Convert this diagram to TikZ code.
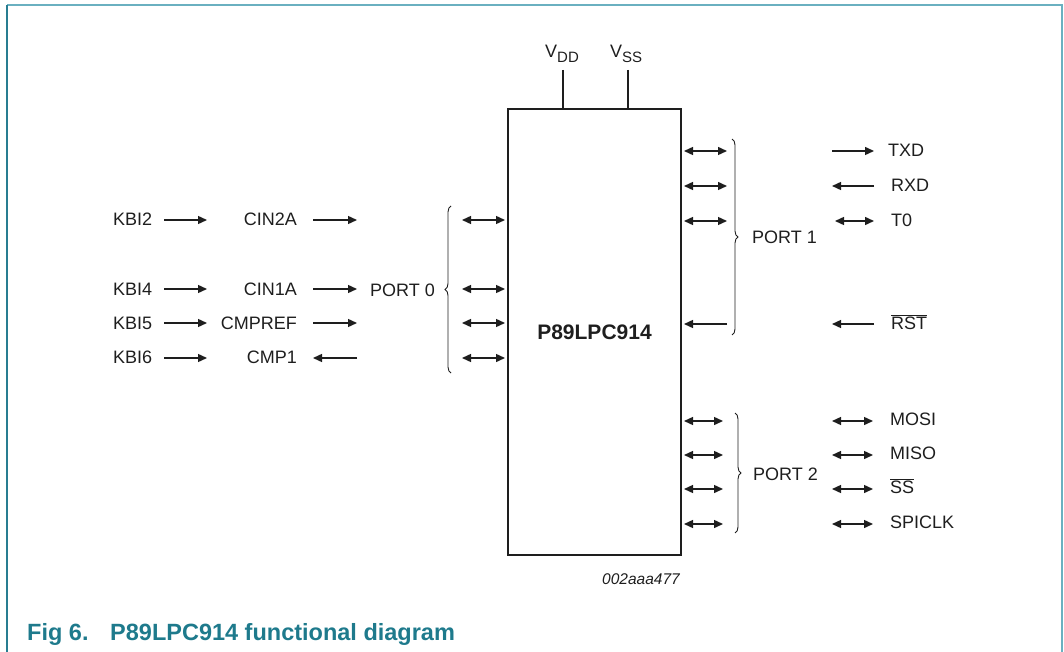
\documentclass[tikz,border=0pt]{standalone}
\usepackage{fontspec}
\setmainfont{Liberation Sans}
\usetikzlibrary{arrows.meta,decorations.pathreplacing}
\definecolor{frameA}{RGB}{106,176,192}
\definecolor{frameB}{RGB}{40,125,145}
\definecolor{capcol}{RGB}{30,122,140}
\definecolor{ink}{RGB}{30,30,30}
\tikzset{
  lbl/.style={font=\fontsize{18}{18}\selectfont, inner sep=0pt, text height=13pt, text depth=0pt, text=ink},
  arr/.style={-{Triangle[length=9pt,width=8pt]}, line width=1.4pt, draw=ink},
  dbl/.style={{Triangle[length=9pt,width=8pt]}-{Triangle[length=9pt,width=8pt]}, line width=1.4pt, draw=ink},
  brc/.style={decorate, decoration={brace, amplitude=6pt}, line width=0.9pt, draw=ink},
  chipbox/.style={draw=ink, line width=2.6pt, minimum width=173pt, minimum height=446pt, inner sep=0pt, font=\fontsize{21}{21}\selectfont\bfseries, text=ink},
  pin/.style={line width=1.2pt, draw=ink}
}
\begin{document}
\begin{tikzpicture}[x=1pt,y=-1pt]
\useasboundingbox (0,0) rectangle (1064,652);
% frame
\draw[frameA, line width=2pt] (7,5.5) -- (1062,5.5) -- (1062,652);
\draw[frameB, line width=1.5pt] (7,5) -- (7,652);

% chip
\node[chipbox] (chip) at (594.5,332) {P89LPC914};
\coordinate (vddt) at (563,70);
\coordinate (vsst) at (628,70);
\draw[pin] (vddt) -- (vddt |- chip.north);
\draw[pin] (vsst) -- (vsst |- chip.north);
\node[inner sep=0pt, anchor=base west, font=\fontsize{18}{18}\selectfont, text=ink] (vdd) at (545,58) {V\raisebox{-4.5pt}{\fontsize{15}{15}\selectfont DD}};
\node[inner sep=0pt, anchor=base west, font=\fontsize{18}{18}\selectfont, text=ink] (vss) at (610,58) {V\raisebox{-4.5pt}{\fontsize{15}{15}\selectfont SS}};

% left side: KBI -> CIN -> port 0
\node[lbl, anchor=west] (kbi2) at (113,219) {KBI2};
\node[lbl, anchor=west] (kbi4) at (113,289) {KBI4};
\node[lbl, anchor=west] (kbi5) at (113,323) {KBI5};
\node[lbl, anchor=west] (kbi6) at (113,357) {KBI6};
\node[lbl, anchor=east] (cin2a) at (297,219) {CIN2A};
\node[lbl, anchor=east] (cin1a) at (297,289) {CIN1A};
\node[lbl, anchor=east] (cmpref) at (297,323) {CMPREF};
\node[lbl, anchor=east] (cmp1) at (297,357) {CMP1};
\foreach \n/\y in {a/220,b/289,c/323,d/358}{
  \coordinate (ka\n) at (164,\y);
  \coordinate (kb\n) at (207,\y);
  \coordinate (ca\n) at (313,\y);
  \coordinate (cb\n) at (357,\y);
  \coordinate (pa\n) at (462,\y);
  \coordinate (pb\n) at (505,\y);
  \draw[arr] (ka\n) -- (kb\n);
  \draw[dbl] (pa\n) -- (pb\n);
}
\draw[arr] (caa) -- (cba);
\draw[arr] (cab) -- (cbb);
\draw[arr] (cac) -- (cbc);
\draw[arr] (cbd) -- (cad);
\node[lbl, anchor=west] (port0) at (370,290) {PORT 0};
\coordinate (b0s) at (451,373);
\coordinate (b0e) at (451,206);
\draw[brc] (b0s) -- (b0e);

% port 1
\foreach \n/\y in {a/151,b/186,c/221}{
  \coordinate (qa\n) at (684,\y);
  \coordinate (qb\n) at (727,\y);
  \draw[dbl] (qa\n) -- (qb\n);
}
\coordinate (qad) at (684,324);
\coordinate (qbd) at (727,324);
\draw[arr] (qbd) -- (qad);
\coordinate (b1s) at (732,139);
\coordinate (b1e) at (732,335);
\draw[brc] (b1s) -- (b1e);
\node[lbl, anchor=west] (port1) at (752,237) {PORT 1};
\coordinate (xa1) at (832,151); \coordinate (xb1) at (874,151);
\coordinate (xa2) at (832,186); \coordinate (xb2) at (874,186);
\coordinate (xa3) at (835,221); \coordinate (xb3) at (874,221);
\coordinate (xa4) at (832,324); \coordinate (xb4) at (874,324);
\draw[arr] (xa1) -- (xb1);
\draw[arr] (xb2) -- (xa2);
\draw[dbl] (xa3) -- (xb3);
\draw[arr] (xb4) -- (xa4);
\node[lbl, anchor=west] (txd) at (888,150) {TXD};
\node[lbl, anchor=west] (rxd) at (891,185) {RXD};
\node[lbl, anchor=west] (t0) at (891,220) {T0};
\node[lbl, anchor=west] (rst) at (891,323) {\ensuremath{\overline{\hbox{RST}}}};

% port 2
\foreach \n/\y in {a/421,b/455,c/489,d/524}{
  \coordinate (ra\n) at (684,\y);
  \coordinate (rb\n) at (723,\y);
  \draw[dbl] (ra\n) -- (rb\n);
  \coordinate (sa\n) at (832,\y);
  \coordinate (sb\n) at (873,\y);
  \draw[dbl] (sa\n) -- (sb\n);
}
\coordinate (b2s) at (735,413);
\coordinate (b2e) at (735,533);
\draw[brc] (b2s) -- (b2e);
\node[lbl, anchor=west] (port2) at (753,474) {PORT 2};
\node[lbl, anchor=west] (mosi) at (890,419) {MOSI};
\node[lbl, anchor=west] (miso) at (890,453) {MISO};
\node[lbl, anchor=west] (ss) at (890,487) {\ensuremath{\overline{\hbox{SS}}}};
\node[lbl, anchor=west] (spiclk) at (890,522) {SPICLK};

% ids and caption
\node[inner sep=0pt, font=\fontsize{15.5}{15.5}\selectfont\itshape, text=ink] (code) at (641,579) {002aaa477};
\node[inner sep=0pt, anchor=base west, font=\fontsize{23.5}{23.5}\selectfont\bfseries, text=capcol] (fig) at (27,640) {Fig 6.};
\node[inner sep=0pt, anchor=base west, font=\fontsize{23.5}{23.5}\selectfont\bfseries, text=capcol] (cap) at (110,640) {P89LPC914 functional diagram};
\end{tikzpicture}
\end{document}
